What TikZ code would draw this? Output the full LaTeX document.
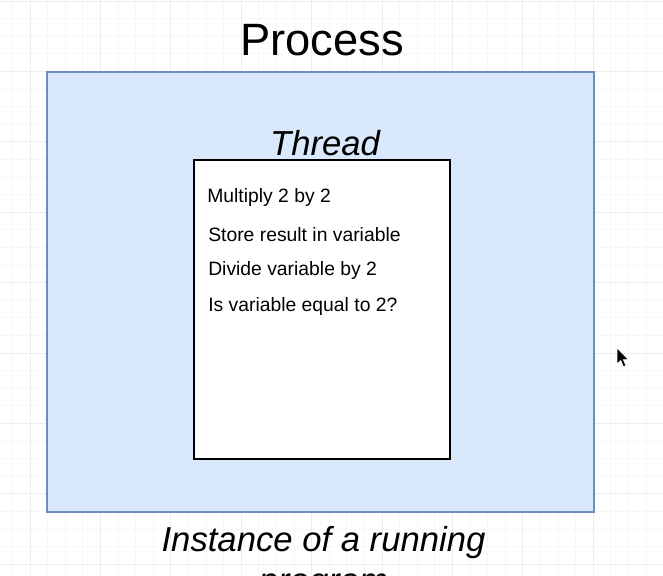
\documentclass[tikz,border=0pt]{standalone}
\usepackage{fontspec}
\setmainfont{Liberation Sans}
\definecolor{procfill}{HTML}{DAE8FC}
\definecolor{procline}{HTML}{6C8EBF}
\definecolor{gridmajor}{HTML}{EDEDED}
\definecolor{gridminor}{HTML}{F7F7F7}
\tikzset{
  processbox/.style={draw=procline, fill=procfill, line width=1.9pt},
  threadbox/.style={draw=black, fill=white, line width=2.2pt},
  steptext/.style={anchor=base west, inner sep=0pt, font=\fontsize{14.5pt}{17pt}\selectfont},
  bigtitle/.style={anchor=base, inner sep=0pt, font=\fontsize{34pt}{40pt}\selectfont},
  italictitle/.style={anchor=base, inner sep=0pt, font=\fontsize{26pt}{27pt}\selectfont\itshape},
}
\begin{document}
\begin{tikzpicture}[x=0.75pt, y=-0.75pt]
\useasboundingbox (0,0) rectangle (663,575);
\fill[white] (0,0) rectangle (663,575);
% background grid
\foreach \i in {-1,...,37} {
  \draw[gridminor, line width=0.5pt] ({30+17.6*\i},0) -- ({30+17.6*\i},575);
}
\foreach \j in {0,...,33} {
  \draw[gridminor, line width=0.5pt] (0,{1+17.6*\j}) -- (663,{1+17.6*\j});
}
\foreach \i in {0,...,9} {
  \draw[gridmajor, line width=0.6pt] ({30+70.4*\i},0) -- ({30+70.4*\i},575);
}
\foreach \j in {0,...,8} {
  \draw[gridmajor, line width=0.6pt] (0,{1+70.4*\j}) -- (663,{1+70.4*\j});
}
% title
\node[bigtitle] (ptitle) at (322,55) {Process};
% process box
\draw[processbox] (47,72) rectangle (594,512);
% thread
\node[italictitle] (ttitle) at (325,155) {Thread};
\draw[threadbox] (194,160) rectangle (450,459);
\node[steptext] (s1) at (207,202) {Multiply 2 by 2};
\node[steptext] (s2) at (208,241) {Store result in variable};
\node[steptext] (s3) at (208,275) {Divide variable by 2};
\node[steptext] (s4) at (208,311) {Is variable equal to 2?};
% caption, second line cut off by the lower edge as in the reference
\node[italictitle] (cap1) at (323.5,551) {Instance of a running};
\node[italictitle] (cap2) at (323.5,592) {program};
% mouse cursor
\filldraw[fill=black, draw=white, line width=0.4pt, shift={(617,348)}]
  (0,0) -- (0,16) -- (3.8,12.4) -- (6.4,18.6) -- (8.8,17.6) -- (6.3,11.6) -- (11.2,11.6) -- cycle;
\end{tikzpicture}
\end{document}
